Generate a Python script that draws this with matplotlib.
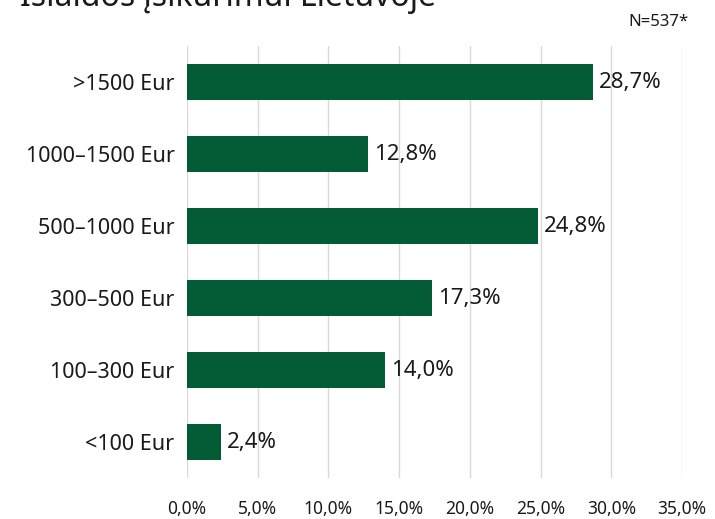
import matplotlib.pyplot as plt

categories = ['<100 Eur', '100–300 Eur', '300–500 Eur', '500–1000 Eur', '1000–1500 Eur', '>1500 Eur']
values = [2.4, 14.0, 17.3, 24.8, 12.8, 28.7]
xticks = [0, 5, 10, 15, 20, 25, 30, 35]

plt.rcParams['font.family'] = ['Noto Sans', 'DejaVu Sans']

fig = plt.figure(figsize=(7.15, 5.19), dpi=100)
ax = fig.add_axes([0.2615, 0.079, 0.954 - 0.2615, 0.832])

ax.barh(range(len(categories)), values, height=0.5, color='#035C36', zorder=3)
for i, v in enumerate(values):
    ax.text(v + 0.45, i, ('%.1f%%' % v).replace('.', ','), va='center', ha='left',
            fontsize=16, color='#1a1a1a', zorder=4)

ax.set_xlim(0, 35)
ax.set_ylim(-0.5, 5.5)
ax.set_xticks(xticks)
ax.set_xticklabels([('%.1f%%' % t).replace('.', ',') for t in xticks], fontsize=12.5, color='#1a1a1a')
ax.set_yticks(range(len(categories)))
ax.set_yticklabels(categories, fontsize=15.5, color='#1a1a1a')
ax.tick_params(axis='both', length=0)
ax.tick_params(axis='x', pad=16)
ax.tick_params(axis='y', pad=9)
ax.grid(axis='x', color='#d9d9d9', linewidth=1, zorder=0)
for s in ax.spines.values():
    s.set_visible(False)

fig.text(0.028, 0.988, 'Išlaidos įsikūrimui Lietuvoje', fontsize=23, va='baseline', ha='left', color='#1a1a1a')
fig.text(0.963, 0.958, 'N=537*', fontsize=12, ha='right', va='center', color='#1a1a1a')

fig.savefig('out.png', dpi=100)
